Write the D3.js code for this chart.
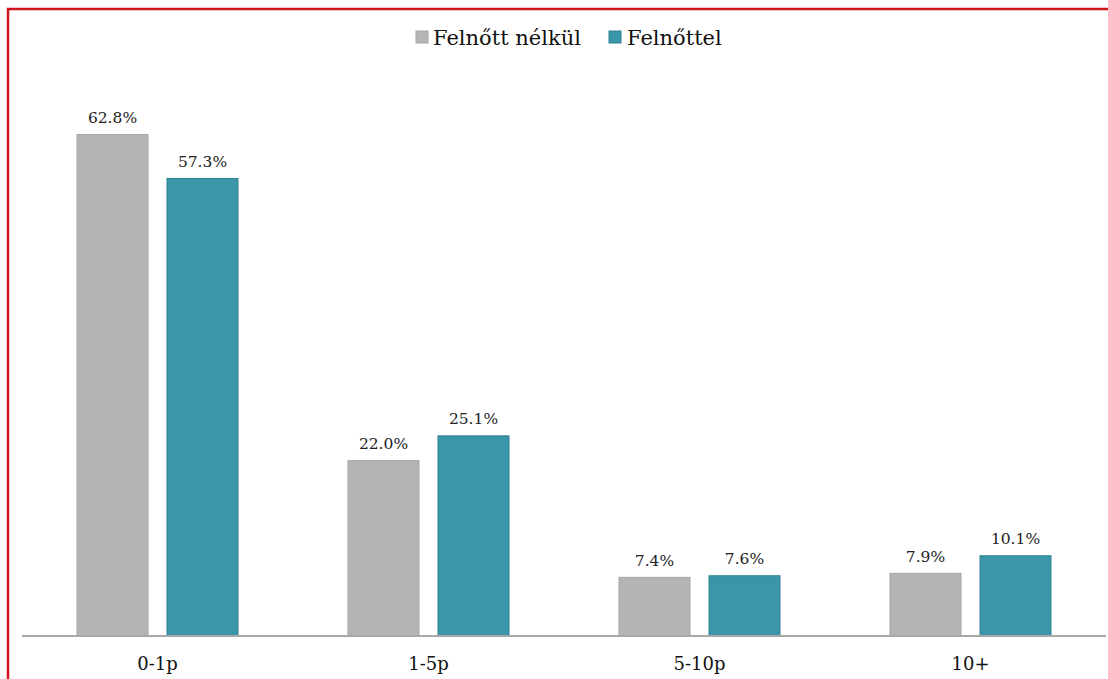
<!DOCTYPE html>
<html><head><meta charset="utf-8">
<script src="https://cdn.jsdelivr.net/npm/d3@7"></script>
<style>body{margin:0;background:#fff;}svg{display:block;}</style>
</head><body>
<script>
const categories = ["0-1p", "1-5p", "5-10p", "10+"];
const seriesNames = ["Felnőtt nélkül", "Felnőttel"];
const withoutAdult = [62.8, 22.0, 7.4, 7.9];
const withAdult = [57.3, 25.1, 7.6, 10.1];
const seriesValues = [withoutAdult, withAdult];
const colors = ["#b4b4b4", "#3a96a8"];
const strokes = ["#a6a6a6", "#2d8193"];

const W = 1108, H = 679;
const svg = d3.select("body").append("svg").attr("width", W).attr("height", H);
svg.append("rect").attr("width", W).attr("height", H).attr("fill", "#fff");
// red frame
svg.append("path").attr("d", "M8,679 L8,9 L1108,9").attr("fill", "none").attr("stroke", "#d0141c").attr("stroke-width", 2.5);

const font = "DejaVu Serif, Liberation Serif, serif";
const x0 = d3.scaleBand().domain(categories).range([22, 1106]).padding(0);
const x1 = d3.scaleBand().domain(seriesNames).range([-81, 81]).paddingInner(0.2);
const y = d3.scaleLinear().domain([0, 62.8]).range([636, 134]);

const g = svg.append("g");
categories.forEach((c, i) => {
  const cx = x0(c) + x0.bandwidth() / 2;
  seriesNames.forEach((s, j) => {
    const v = seriesValues[j][i];
    g.append("rect")
      .attr("x", cx + x1(s) + 0.5).attr("y", y(v) + 0.5)
      .attr("width", x1.bandwidth() - 1).attr("height", y(0) - y(v) - 0.5)
      .attr("fill", colors[j]).attr("stroke", strokes[j]).attr("stroke-width", 1);
    g.append("text")
      .attr("x", cx + x1(s) + x1.bandwidth() / 2).attr("y", y(v) - 11)
      .attr("text-anchor", "middle").attr("font-family", font).attr("font-size", 15.5)
      .attr("fill", "#222").text(v.toFixed(1) + "%");
  });
});

// axis
const axis = d3.axisBottom(x0).tickSize(0).tickPadding(21);
const ag = svg.append("g").attr("transform", "translate(0,636)").call(axis);
ag.select(".domain").attr("stroke", "#a8a8a8").attr("stroke-width", 2).attr("d", "M22,0H1106");
ag.selectAll("text").attr("font-family", font).attr("font-size", 18).attr("fill", "#111");

// legend
const leg = svg.append("g");
const legItems = [{x: 416, tx: 433}, {x: 609, tx: 627}];
seriesNames.forEach((s, j) => {
  leg.append("rect").attr("x", legItems[j].x).attr("y", 31).attr("width", 12).attr("height", 12)
    .attr("fill", colors[j]).attr("stroke", strokes[j]);
  leg.append("text").attr("x", legItems[j].tx).attr("y", 45)
    .attr("font-family", font).attr("font-size", 21).attr("fill", "#111").text(s);
});
</script>
</body></html>
